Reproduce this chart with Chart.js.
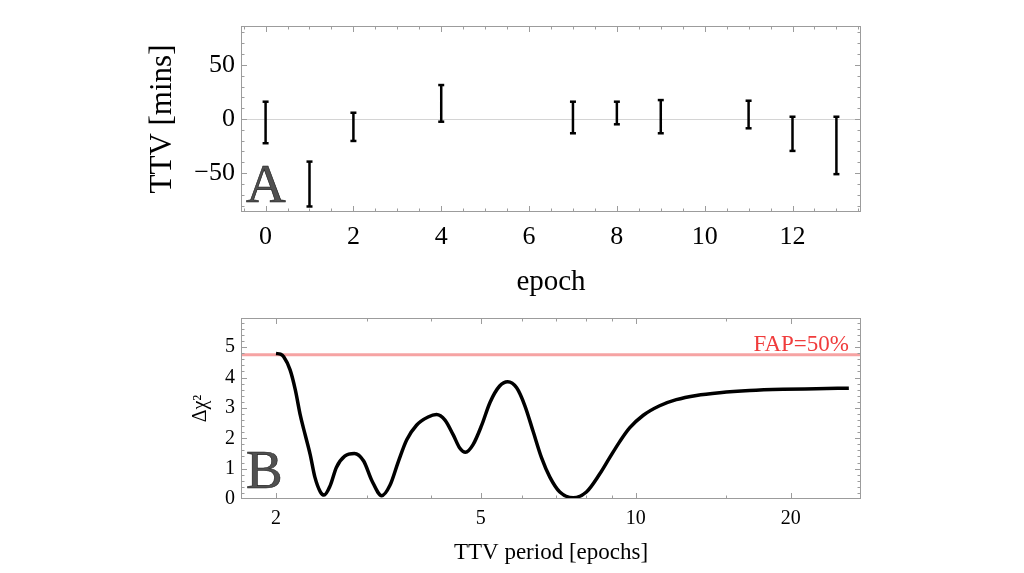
<!DOCTYPE html>
<html>
<head>
<meta charset="utf-8">
<script src="https://cdn.jsdelivr.net/npm/chart.js@4.4.1/dist/chart.umd.min.js"></script>
<style>
  html, body { margin: 0; padding: 0; background: #fff; }
  #wrap { position: relative; width: 1024px; height: 573px; }
  .panel { position: absolute; left: 0; }
  #top { top: 0; }
  #bot { top: 300px; }
</style>
</head>
<body>
<div id="wrap">
  <div class="panel" id="top"><canvas id="chart-ttv" width="1024" height="300"></canvas></div>
  <div class="panel" id="bot"><canvas id="chart-chi2" width="1024" height="273"></canvas></div>
</div>
<script>
// ==========================================
// Panel A: TTV error bars / Panel B: Δχ² periodogram
// ==========================================

// Panel A data
const epochs   = [0, 1, 2, 4, 7, 8, 9, 11, 12, 13];
const ttvHigh  = [16, -39.4, 5.8, 31.4, 16, 16, 17.5, 16.9, 2.1, 2.1];
const ttvLow   = [-22.4, -80.9, -20.3, -2.5, -13.2, -4.9, -13.2, -8.6, -29.5, -51];
const epochTicks = [0, 2, 4, 6, 8, 10, 12];
const ttvTicks   = [-50, 0, 50];

// Panel B data
const periods = [2.00, 2.04, 2.07, 2.13, 2.18, 2.23, 2.28, 2.33, 2.38, 2.44, 2.48, 2.55, 2.62, 2.72,
  2.84, 2.96, 3.07, 3.21, 3.33, 3.46, 3.59, 3.75, 3.95, 4.10, 4.26, 4.42, 4.55, 4.67, 4.83,
  5.02, 5.21, 5.44, 5.64, 5.87, 6.09, 6.32, 6.56, 6.81, 7.12, 7.56, 8.02, 8.51, 8.90, 9.31,
  9.73, 10.33, 11.13, 11.99, 13.12, 14.56, 16.65, 19.32, 22.43, 25.95];
const dchi2 = [4.79, 4.77, 4.68, 4.25, 3.6, 2.75, 2.1, 1.47, 0.72, 0.23, 0.13, 0.45, 1.04, 1.41,
  1.5, 1.25, 0.61, 0.11, 0.45, 1.25, 1.95, 2.43, 2.70, 2.78, 2.60, 2.11, 1.68, 1.54, 1.79,
  2.43, 3.18, 3.72, 3.86, 3.66, 3.07, 2.22, 1.36, 0.72, 0.23, 0.04, 0.23, 0.82, 1.36, 1.89,
  2.34, 2.75, 3.07, 3.27, 3.41, 3.5, 3.57, 3.61, 3.63, 3.65];
const periodTicks      = [2, 5, 10, 20];
const periodMinorTicks = [3, 4, 6, 7, 8, 9, 15];
const chiTicks   = [0, 1, 2, 3, 4, 5];
const fapLevel   = 4.75;
const fapLabel   = 'FAP=50%';
const periodMin  = 1.71;
const periodMax  = 27.4;

const SERIF = '"Liberation Serif", "DejaVu Serif", serif';
const FRAME = '#9c9c9c';

function range(a, b, step) {
  const out = [];
  for (let v = a; v <= b + 1e-9; v += step) out.push(+v.toFixed(4));
  return out;
}

// inward ticks on all four sides + frame (Mathematica style)
const frameTicks = {
  id: 'frameTicks',
  afterDatasetsDraw(chart, args, o) {
    const { ctx, chartArea: a, scales: { x, y } } = chart;
    ctx.save();
    ctx.strokeStyle = FRAME;
    ctx.lineWidth = 1;
    ctx.beginPath();
    const xt = (list, len) => list.forEach(v => {
      const px = Math.round(x.getPixelForValue(v)) + 0.5;
      if (px < a.left || px > a.right) return;
      ctx.moveTo(px, a.bottom); ctx.lineTo(px, a.bottom - len);
      ctx.moveTo(px, a.top);    ctx.lineTo(px, a.top + len);
    });
    const yt = (list, len) => list.forEach(v => {
      const py = Math.round(y.getPixelForValue(v)) + 0.5;
      if (py < a.top || py > a.bottom) return;
      ctx.moveTo(a.left, py);  ctx.lineTo(a.left + len, py);
      ctx.moveTo(a.right, py); ctx.lineTo(a.right - len, py);
    });
    xt(o.xMajor, 6); xt(o.xMinor, 3.5);
    yt(o.yMajor, 6); yt(o.yMinor, 3.5);
    ctx.stroke();
    ctx.strokeRect(a.left + 0.5, a.top + 0.5, a.width - 1, a.height - 1);
    ctx.restore();
  }
};

const panelLetter = {
  id: 'panelLetter',
  afterDraw(chart, args, o) {
    const { ctx, chartArea: a } = chart;
    ctx.save();
    ctx.font = `${o.size}px ${SERIF}`;
    ctx.textBaseline = 'alphabetic';
    ctx.fillStyle = '#505050';
    ctx.strokeStyle = '#1a1a1a';
    ctx.lineWidth = 0.6;
    ctx.fillText(o.text, a.left + o.dx, a.bottom - o.dy);
    ctx.strokeText(o.text, a.left + o.dx, a.bottom - o.dy);
    ctx.restore();
  }
};

const fapText = {
  id: 'fapText',
  afterDatasetsDraw(chart) {
    const { ctx, chartArea: a, scales: { y } } = chart;
    ctx.save();
    ctx.font = `23px ${SERIF}`;
    ctx.fillStyle = '#f03c3c';
    ctx.textAlign = 'right';
    ctx.textBaseline = 'alphabetic';
    ctx.fillText(fapLabel, a.right - 12, y.getPixelForValue(fapLevel) - 4);
    ctx.restore();
  }
};

const minusFmt = v => v < 0 ? '\u2212' + Math.abs(v) : String(v);

// ---------- Panel A ----------
const barSegments = [];
const capPoints = [];
epochs.forEach((e, i) => {
  barSegments.push({ x: e, y: ttvLow[i] }, { x: e, y: ttvHigh[i] }, { x: e, y: null });
  capPoints.push({ x: e, y: ttvLow[i] }, { x: e, y: ttvHigh[i] });
});

new Chart(document.getElementById('chart-ttv'), {
  type: 'scatter',
  data: {
    datasets: [
      { type: 'line', data: barSegments, borderColor: '#000', borderWidth: 2.5,
        pointRadius: 0, spanGaps: false, tension: 0 },
      { data: capPoints, pointStyle: 'line', pointRadius: 3, borderColor: '#000', borderWidth: 2.5 }
    ]
  },
  options: {
    animation: false,
    responsive: false,
    layout: { padding: { top: 26, right: 163, left: 0, bottom: 0 } },
    plugins: {
      legend: { display: false },
      tooltip: { enabled: false },
      frameTicks: { xMajor: epochTicks, xMinor: range(-0.5, 13.5, 0.5), yMajor: ttvTicks, yMinor: range(-80, 80, 10) },
      panelLetter: { text: 'A', size: 55, dx: 5, dy: 10 }
    },
    scales: {
      x: {
        type: 'linear', min: -0.56, max: 13.56,
        afterFit: s => { s.height = 88; },
        afterBuildTicks: s => { s.ticks = epochTicks.map(v => ({ value: v })); },
        grid: { display: false, drawTicks: false },
        border: { display: false },
        ticks: { font: { family: SERIF, size: 26 }, color: '#000', padding: 10, maxRotation: 0 },
        title: { display: true, text: 'epoch', color: '#000',
                 font: { family: SERIF, size: 29 }, padding: { top: 0, bottom: 0 } }
      },
      y: {
        min: -86, max: 86,
        afterFit: s => { s.width = 241; },
        afterBuildTicks: s => { s.ticks = ttvTicks.map(v => ({ value: v })); },
        grid: { drawTicks: false, color: c => c.tick && c.tick.value === 0 ? '#d4d4d4' : 'rgba(0,0,0,0)' },
        border: { display: false },
        ticks: { font: { family: SERIF, size: 26 }, color: '#000', padding: 6, callback: minusFmt },
        title: { display: true, text: 'TTV [mins]', color: '#000',
                 font: { family: SERIF, size: 31 }, padding: { top: 144, bottom: 0 } }
      }
    }
  },
  plugins: [frameTicks, panelLetter]
});

// ---------- Panel B ----------
const curve = periods.map((p, i) => ({ x: p, y: dchi2[i] }));
const fapLine = [{ x: periodMin, y: fapLevel }, { x: periodMax, y: fapLevel }];

new Chart(document.getElementById('chart-chi2'), {
  type: 'scatter',
  data: {
    datasets: [
      { data: curve, showLine: true, borderColor: '#000', backgroundColor: '#000', borderWidth: 3.5,
        pointRadius: 0, cubicInterpolationMode: 'monotone' },
      { data: fapLine, showLine: true, borderColor: '#f6a3a3', borderWidth: 2.8, pointRadius: 0 }
    ]
  },
  options: {
    animation: false,
    responsive: false,
    layout: { padding: { top: 13, right: 163, left: 0, bottom: 0 } },
    plugins: {
      legend: { display: false },
      tooltip: { enabled: false },
      frameTicks: { xMajor: periodTicks, xMinor: periodMinorTicks, yMajor: chiTicks, yMinor: range(0, 5.8, 0.2) },
      panelLetter: { text: 'B', size: 55, dx: 5, dy: 11 }
    },
    scales: {
      x: {
        type: 'logarithmic', min: periodMin, max: periodMax,
        afterFit: s => { s.height = 74; },
        afterBuildTicks: s => { s.ticks = periodTicks.map(v => ({ value: v })); },
        grid: { display: false, drawTicks: false },
        border: { display: false },
        ticks: { font: { family: SERIF, size: 20 }, color: '#000', padding: 8, maxRotation: 0,
                 callback: v => String(v) },
        title: { display: true, text: 'TTV period [epochs]', color: '#000',
                 font: { family: SERIF, size: 23 }, padding: { top: 0, bottom: 6 } }
      },
      y: {
        min: 0, max: 5.96,
        afterFit: s => { s.width = 241; },
        afterBuildTicks: s => { s.ticks = chiTicks.map(v => ({ value: v })); },
        grid: { display: false, drawTicks: false },
        border: { display: false },
        ticks: { font: { family: SERIF, size: 20 }, color: '#000', padding: 6 },
        title: { display: true, text: 'Δχ²', color: '#000',
                 font: { family: SERIF, size: 20 }, padding: { top: 189, bottom: 0 } }
      }
    }
  },
  plugins: [frameTicks, panelLetter, fapText]
});
</script>
</body>
</html>
